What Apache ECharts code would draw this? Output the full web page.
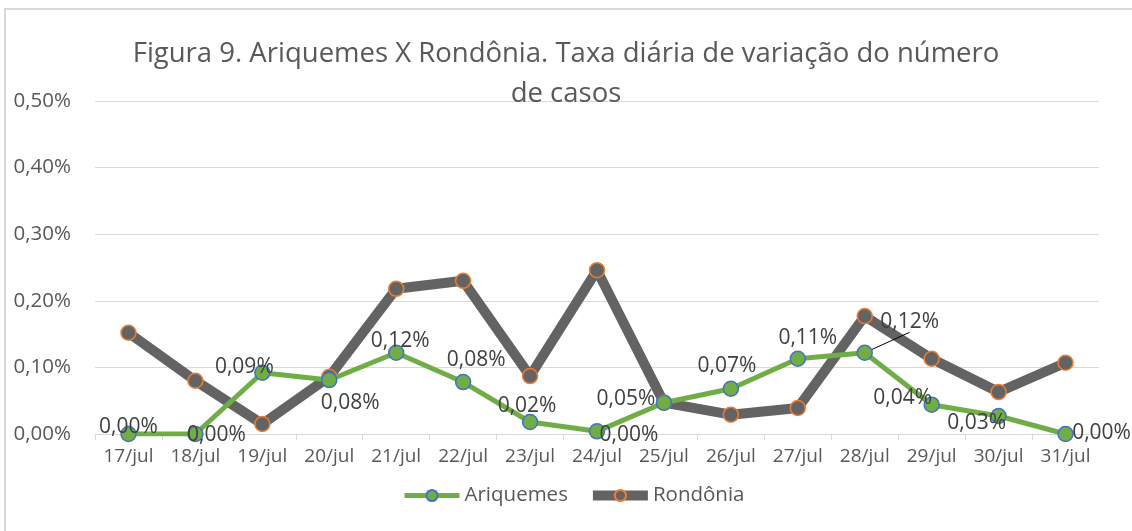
<!DOCTYPE html>
<html>
<head>
<meta charset="utf-8">
<script src="https://cdn.jsdelivr.net/npm/echarts@6/dist/echarts.min.js"></script>
<style>html,body{margin:0;padding:0;background:#fff;}#c{width:1132px;height:531px;}</style>
</head>
<body>
<div id="c"></div>
<script>
// ---- data (values in %) ----
const categories = ['17/jul','18/jul','19/jul','20/jul','21/jul','22/jul','23/jul','24/jul','25/jul','26/jul','27/jul','28/jul','29/jul','30/jul','31/jul'];
const ariquemes = [0, 0, 0.092, 0.081, 0.122, 0.078, 0.018, 0.004, 0.047, 0.068, 0.113, 0.122, 0.044, 0.027, 0];
const rondonia  = [0.152, 0.080, 0.015, 0.086, 0.218, 0.230, 0.087, 0.246, 0.047, 0.029, 0.039, 0.177, 0.113, 0.063, 0.107];
const yTicks = [0, 0.1, 0.2, 0.3, 0.4, 0.5];
const seriesNames = ['Ariquemes', 'Rondônia'];
const titleText = 'Figura 9. Ariquemes X Rondônia. Taxa diária de variação do número\nde casos';

// label offsets (styling) for Ariquemes data labels
const labelOffsets = [[0,-7],[21,1],[-18,-6],[21,23],[4,-12],[13,-22],[-3,-16],[32,4],[-38,-4],[-4,-23],[10,-21],[45,-31],[-29,-7],[-22,7],[36,-1]];

const fmt = v => v.toFixed(2).replace('.', ',') + '%';
const FONT = 'Open Sans';
const TXT = '#404040';

const chart = echarts.init(document.getElementById('c'), null, {renderer:'canvas'});
chart.setOption({
  animation: false,
  backgroundColor: '#fff',
  graphic: [{
    type: 'rect', shape: {x: 5, y: 9, width: 1140, height: 540},
    style: {fill: 'none', stroke: '#d9d9d9', lineWidth: 2}, silent: true, z: -1
  }],
  title: {
    text: titleText, left: 'center', top: 29,
    textStyle: {fontFamily: FONT, fontSize: 27.5, fontWeight: 'normal', color: '#595959', lineHeight: 40}
  },
  grid: {left: 95, right: 33, top: 101, bottom: 97, containLabel: false},
  legend: {
    bottom: 20, left: 397, itemWidth: 55, itemHeight: 14, itemGap: 20,
    textStyle: {fontFamily: FONT, fontSize: 20.5, color: '#595959'},
    data: [
      {name: seriesNames[0], lineStyle: {width: 5}},
      {name: seriesNames[1], lineStyle: {width: 10}}
    ]
  },
  xAxis: {
    type: 'category', data: categories, boundaryGap: true,
    axisLine: {lineStyle: {color: '#d9d9d9', width: 1}},
    axisTick: {show: true, length: 6, lineStyle: {color: '#d9d9d9'}},
    axisLabel: {fontFamily: FONT, fontSize: 19, color: '#595959', margin: 13}
  },
  yAxis: {
    type: 'value', min: 0, max: 0.5, interval: 0.1,
    axisLine: {show: false}, axisTick: {show: false},
    splitLine: {lineStyle: {color: '#d9d9d9', width: 1}},
    axisLabel: {fontFamily: FONT, fontSize: 20.5, color: '#595959', margin: 24,
      formatter: v => fmt(v)}
  },
  series: [
    {
      name: seriesNames[1], type: 'line', data: rondonia, z: 2,
      lineStyle: {color: '#636363', width: 10}, itemStyle: {color: '#636363', borderColor: '#ED7D31', borderWidth: 1.5},
      symbol: 'circle', symbolSize: 15, label: {show: false}
    },
    {
      name: seriesNames[0], type: 'line', z: 3,
      data: ariquemes.map((v, i) => {
        const item = {value: v, label: {offset: labelOffsets[i]}};
        if (i === 11) item.labelLine = {show: true, lineStyle: {color: '#000', width: 1}};
        return item;
      }),
      lineStyle: {color: '#70AD47', width: 5}, itemStyle: {color: '#70AD47', borderColor: '#4472C4', borderWidth: 1.5},
      symbol: 'circle', symbolSize: 15,
      label: {show: true, position: 'inside', fontFamily: FONT, fontSize: 21, color: TXT,
        formatter: p => fmt(p.value)},
      labelLine: {show: false}
    }
  ]
});
</script>
</body>
</html>
